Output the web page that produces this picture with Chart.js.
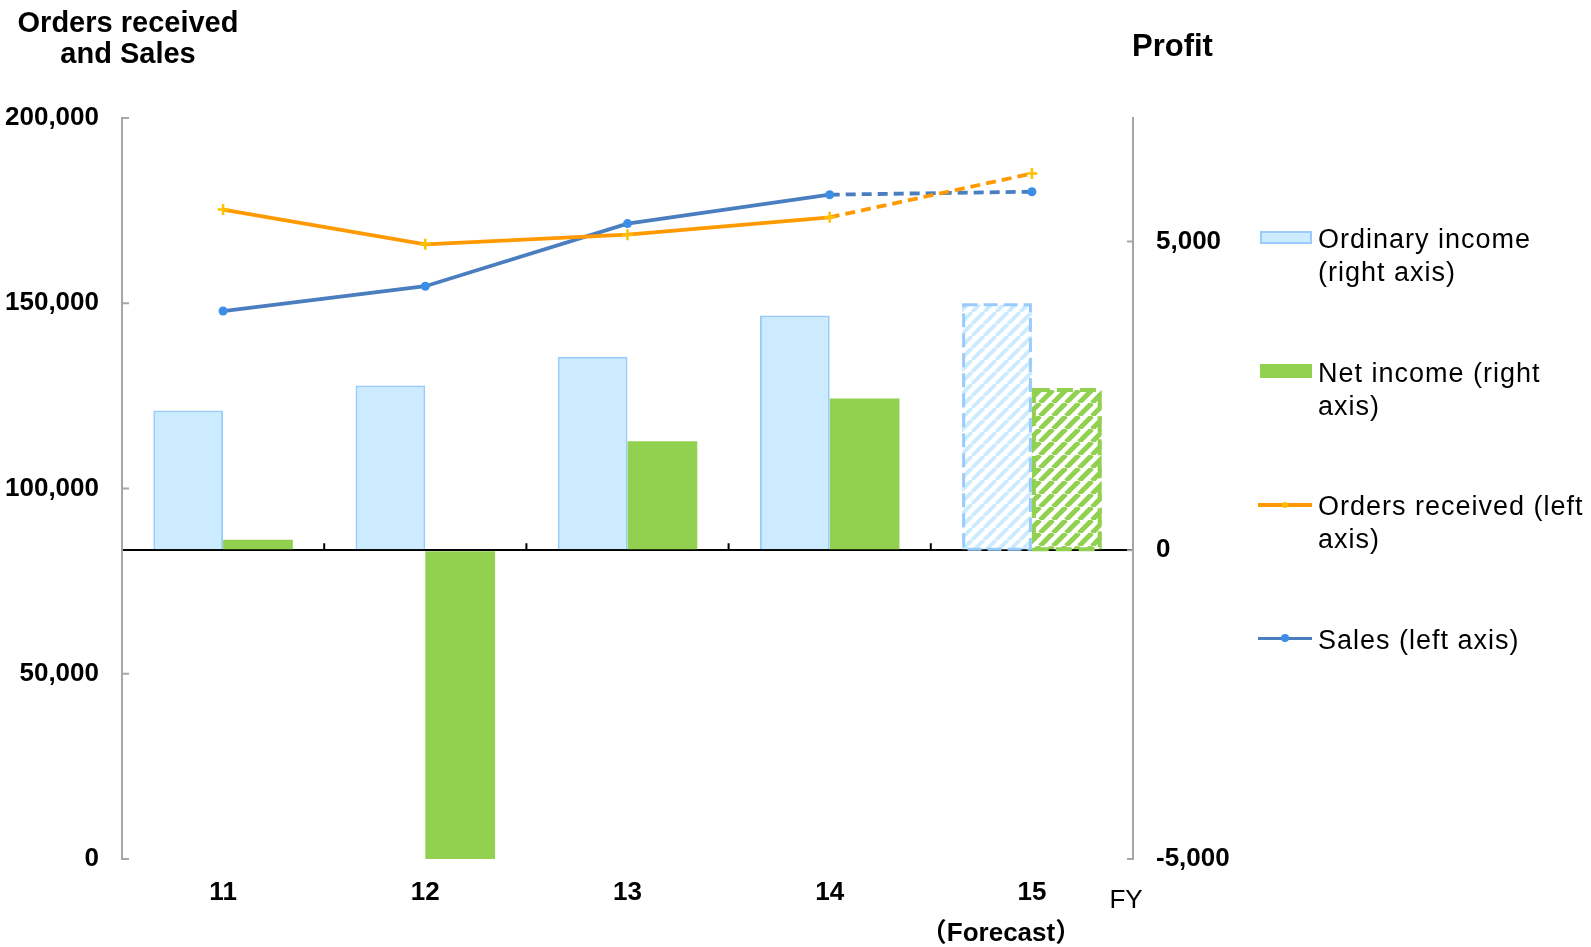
<!DOCTYPE html>
<html>
<head>
<meta charset="utf-8">
<script src="https://cdn.jsdelivr.net/npm/chart.js@4.4.0/dist/chart.umd.min.js"></script>
<style>
html,body{margin:0;padding:0;background:#fff;}
#wrap{position:relative;width:1591px;height:947px;overflow:hidden;font-family:'Liberation Sans',Arial,sans-serif;color:#000;}
#c{position:absolute;left:0;top:0;}
.t{position:absolute;white-space:nowrap;}
.leg{position:absolute;left:1258px;width:333px;height:70px;font-size:27px;line-height:33px;letter-spacing:1px;}
.leg .txt{position:absolute;left:60px;top:0;white-space:nowrap;}
.sw{position:absolute;box-sizing:border-box;}
</style>
</head>
<body>
<div id="wrap">
<canvas id="c" width="1591" height="947"></canvas>
<div class="t" style="left:0;top:7px;width:256px;text-align:center;font-weight:bold;font-size:29px;line-height:31px;">Orders received<br>and Sales</div>
<div class="t" style="left:1132px;top:30px;font-weight:bold;font-size:31px;line-height:31px;">Profit</div>
<div class="t" style="left:1076px;top:886px;width:100px;text-align:center;font-size:26px;line-height:26px;">FY</div>
<div class="t" style="left:901px;top:919px;width:200px;text-align:center;font-weight:bold;font-size:26px;line-height:26px;font-family:'Liberation Sans','Noto Sans CJK JP',sans-serif;">（Forecast）</div>
</div>
<script>
// ---- data ----
const categories = ['11', '12', '13', '14', '15'];
const isForecast = [false, false, false, false, true];
const ordinaryIncome = [2262, 2666, 3134, 3801, 3974];   // right axis
const netIncome = [170, -5000, 1766, 2456, 2596];         // right axis
const ordersReceived = [175300, 165900, 168500, 173200, 185000]; // left axis
const sales = [147900, 154600, 171500, 179300, 180100];          // left axis
const leftTickValues = [0, 50000, 100000, 150000, 200000];
const rightTickValues = [-5000, 0, 5000];
const leftRange = [0, 200000];
const rightRange = [-5000, 7000];
const legendTexts = [
  ['Ordinary income', '(right axis)'],
  ['Net income (right', 'axis)'],
  ['Orders received (left', 'axis)'],
  ['Sales (left axis)']
];

const TICKFONT = { family: "'Liberation Sans',Arial,sans-serif", size: 26, weight: 'bold' };
const C = {
  ordFill: '#CCEBFF', ordBorder: '#99CCFA',
  net: '#92D050',
  orders: '#FF9900', ordersMarker: '#FFC000',
  sales: '#4A7EBF', salesMarker: '#3D8EE6',
  axis: '#A6A6A6'
};

function hatch(bg, stripe, size, lw) {
  const cv = document.createElement('canvas');
  cv.width = size; cv.height = size;
  const g = cv.getContext('2d');
  g.fillStyle = bg; g.fillRect(0, 0, size, size);
  g.strokeStyle = stripe; g.lineWidth = lw;
  for (let k = -1; k <= 1; k++) {
    g.beginPath(); g.moveTo(k * size, size); g.lineTo(k * size + size, 0); g.stroke();
  }
  return g.createPattern(cv, 'repeat');
}
const ordPattern = hatch('#ffffff', '#CCEBFF', 12, 4);
const netPattern = hatch('#ffffff', '#92D050', 13, 5);

const dashSeg = ctx => isForecast[ctx.p1DataIndex] ? [10, 6] : undefined;
const fmt = v => Number(v).toLocaleString('en-US');

const axisTicks = {
  id: 'axisTicks',
  afterDatasetsDraw(chart) {
    const { ctx, chartArea: a, scales } = chart;
    const { x, y, y2 } = scales;
    ctx.save();
    ctx.lineWidth = 2; ctx.strokeStyle = C.axis;
    y.ticks.forEach(t => {
      const p = y.getPixelForValue(t.value);
      ctx.beginPath(); ctx.moveTo(a.left, p); ctx.lineTo(a.left + 7, p); ctx.stroke();
    });
    y2.ticks.forEach(t => {
      const p = y2.getPixelForValue(t.value);
      ctx.beginPath(); ctx.moveTo(a.right, p); ctx.lineTo(a.right - 6, p); ctx.stroke();
    });
    // category boundary ticks on the zero line
    const z = y2.getPixelForValue(0);
    ctx.strokeStyle = '#000';
    for (let i = 0; i < categories.length - 1; i++) {
      const bx = (x.getPixelForValue(i) + x.getPixelForValue(i + 1)) / 2;
      ctx.beginPath(); ctx.moveTo(bx, z); ctx.lineTo(bx, z - 7); ctx.stroke();
    }
    // dashed outline of forecast bars
    chart.data.datasets.forEach((ds, di) => {
      if (ds.type !== 'bar') return;
      const meta = chart.getDatasetMeta(di);
      meta.data.forEach((el, i) => {
        if (!isForecast[i]) return;
        const p = el.getProps(['x', 'y', 'base', 'width'], true);
        ctx.setLineDash(ds.forecastDash);
        ctx.lineWidth = ds.forecastLineWidth;
        ctx.strokeStyle = ds.forecastStroke;
        const top = Math.min(p.y, p.base), h = Math.abs(p.base - p.y);
        ctx.strokeRect(p.x - p.width / 2 + ds.forecastLineWidth / 2, top, p.width - ds.forecastLineWidth, h);
      });
    });
    ctx.restore();
  }
};

const chart = new Chart(document.getElementById('c'), {
  data: {
    labels: categories,
    datasets: [
      {
        type: 'line', label: 'Orders received (left axis)', data: ordersReceived, yAxisID: 'y', order: 0,
        borderColor: C.orders, borderWidth: 3.8, tension: 0,
        pointStyle: 'cross', pointRadius: 5.5, pointBorderWidth: 2.5,
        pointBorderColor: C.ordersMarker, pointBackgroundColor: C.ordersMarker,
        segment: { borderDash: dashSeg }
      },
      {
        type: 'line', label: 'Sales (left axis)', data: sales, yAxisID: 'y', order: 0,
        borderColor: C.sales, borderWidth: 3.8, tension: 0,
        pointStyle: 'circle', pointRadius: 4.5, pointBorderWidth: 0,
        pointBackgroundColor: C.salesMarker,
        segment: { borderDash: dashSeg }
      },
      {
        type: 'bar', label: 'Ordinary income (right axis)', data: ordinaryIncome, yAxisID: 'y2', order: 1,
        backgroundColor: ctx => isForecast[ctx.dataIndex] ? ordPattern : C.ordFill,
        borderColor: C.ordBorder,
        borderWidth: ctx => isForecast[ctx.dataIndex] ? 0 : 2,
        borderSkipped: 'start',
        categoryPercentage: 0.69, barPercentage: 1.0,
        forecastDash: [14, 6], forecastLineWidth: 3, forecastStroke: C.ordBorder
      },
      {
        type: 'bar', label: 'Net income (right axis)', data: netIncome, yAxisID: 'y2', order: 1,
        backgroundColor: ctx => isForecast[ctx.dataIndex] ? netPattern : C.net,
        borderWidth: 0,
        categoryPercentage: 0.69, barPercentage: 1.0,
        forecastDash: [16, 7], forecastLineWidth: 4, forecastStroke: C.net
      }
    ]
  },
  options: {
    responsive: false,
    animation: false,
    devicePixelRatio: 1,
    layout: { padding: { top: 118, left: 0, right: 0, bottom: 0 } },
    plugins: { legend: { display: false }, tooltip: { enabled: false } },
    scales: {
      x: {
        type: 'category', position: 'bottom', offset: true,
        grid: { display: false, drawTicks: false }, border: { display: false },
        ticks: { color: '#000', padding: 18, maxRotation: 0, font: TICKFONT },
        afterFit: s => { s.height = 88; }
      },
      y: {
        type: 'linear', position: 'left',
        min: leftRange[0], max: leftRange[1],
        grid: { display: false, drawTicks: false },
        border: { display: true, color: C.axis, width: 2 },
        ticks: { color: '#000', padding: 23, font: TICKFONT, callback: fmt },
        afterBuildTicks: s => { s.ticks = leftTickValues.map(v => ({ value: v })); },
        afterFit: s => { s.width = 122; }
      },
      y2: {
        type: 'linear', position: 'right', z: 1,
        min: rightRange[0], max: rightRange[1],
        grid: {
          display: true, drawTicks: false, lineWidth: 2,
          color: ctx => (ctx.tick && ctx.tick.value === 0) ? '#000' : 'rgba(0,0,0,0)'
        },
        border: { display: true, color: C.axis, width: 2 },
        ticks: { color: '#000', padding: 23, font: TICKFONT, callback: fmt },
        afterBuildTicks: s => { s.ticks = rightTickValues.map(v => ({ value: v })); },
        afterFit: s => { s.width = 458; }
      }
    }
  },
  plugins: [axisTicks]
});

// ---- HTML legend built from datasets ----
const wrap = document.getElementById('wrap');
const legendOrder = [2, 3, 0, 1];
legendOrder.forEach((di, i) => {
  const ds = chart.data.datasets[di];
  const item = document.createElement('div');
  item.className = 'leg';
  item.style.top = (223 + i * 133.6) + 'px';
  const sw = document.createElement('div');
  sw.className = 'sw';
  if (ds.type === 'bar') {
    sw.style.left = '2px'; sw.style.width = '52px';
    if (di === 2) {
      sw.style.top = '8px'; sw.style.height = '13px';
      sw.style.background = C.ordFill; sw.style.border = '2px solid ' + C.ordBorder;
    } else {
      sw.style.top = '7px'; sw.style.height = '14px';
      sw.style.background = C.net;
    }
    item.appendChild(sw);
  } else {
    sw.style.left = '0px'; sw.style.width = '54px'; sw.style.top = '13px'; sw.style.height = '3.5px';
    sw.style.background = ds.borderColor;
    item.appendChild(sw);
    const mk = document.createElement('div');
    mk.className = 'sw';
    mk.style.left = '23px'; mk.style.top = '10.5px'; mk.style.width = '8px'; mk.style.height = '8px';
    mk.style.borderRadius = '50%';
    mk.style.background = ds.pointBackgroundColor;
    if (ds.pointStyle === 'cross') { mk.style.width = '6px'; mk.style.height = '6px'; mk.style.left = '24px'; mk.style.top = '11.5px'; }
    item.appendChild(mk);
  }
  const tx = document.createElement('div');
  tx.className = 'txt';
  tx.innerHTML = legendTexts[i].join('<br>');
  item.appendChild(tx);
  wrap.appendChild(item);
});
</script>
</body>
</html>
